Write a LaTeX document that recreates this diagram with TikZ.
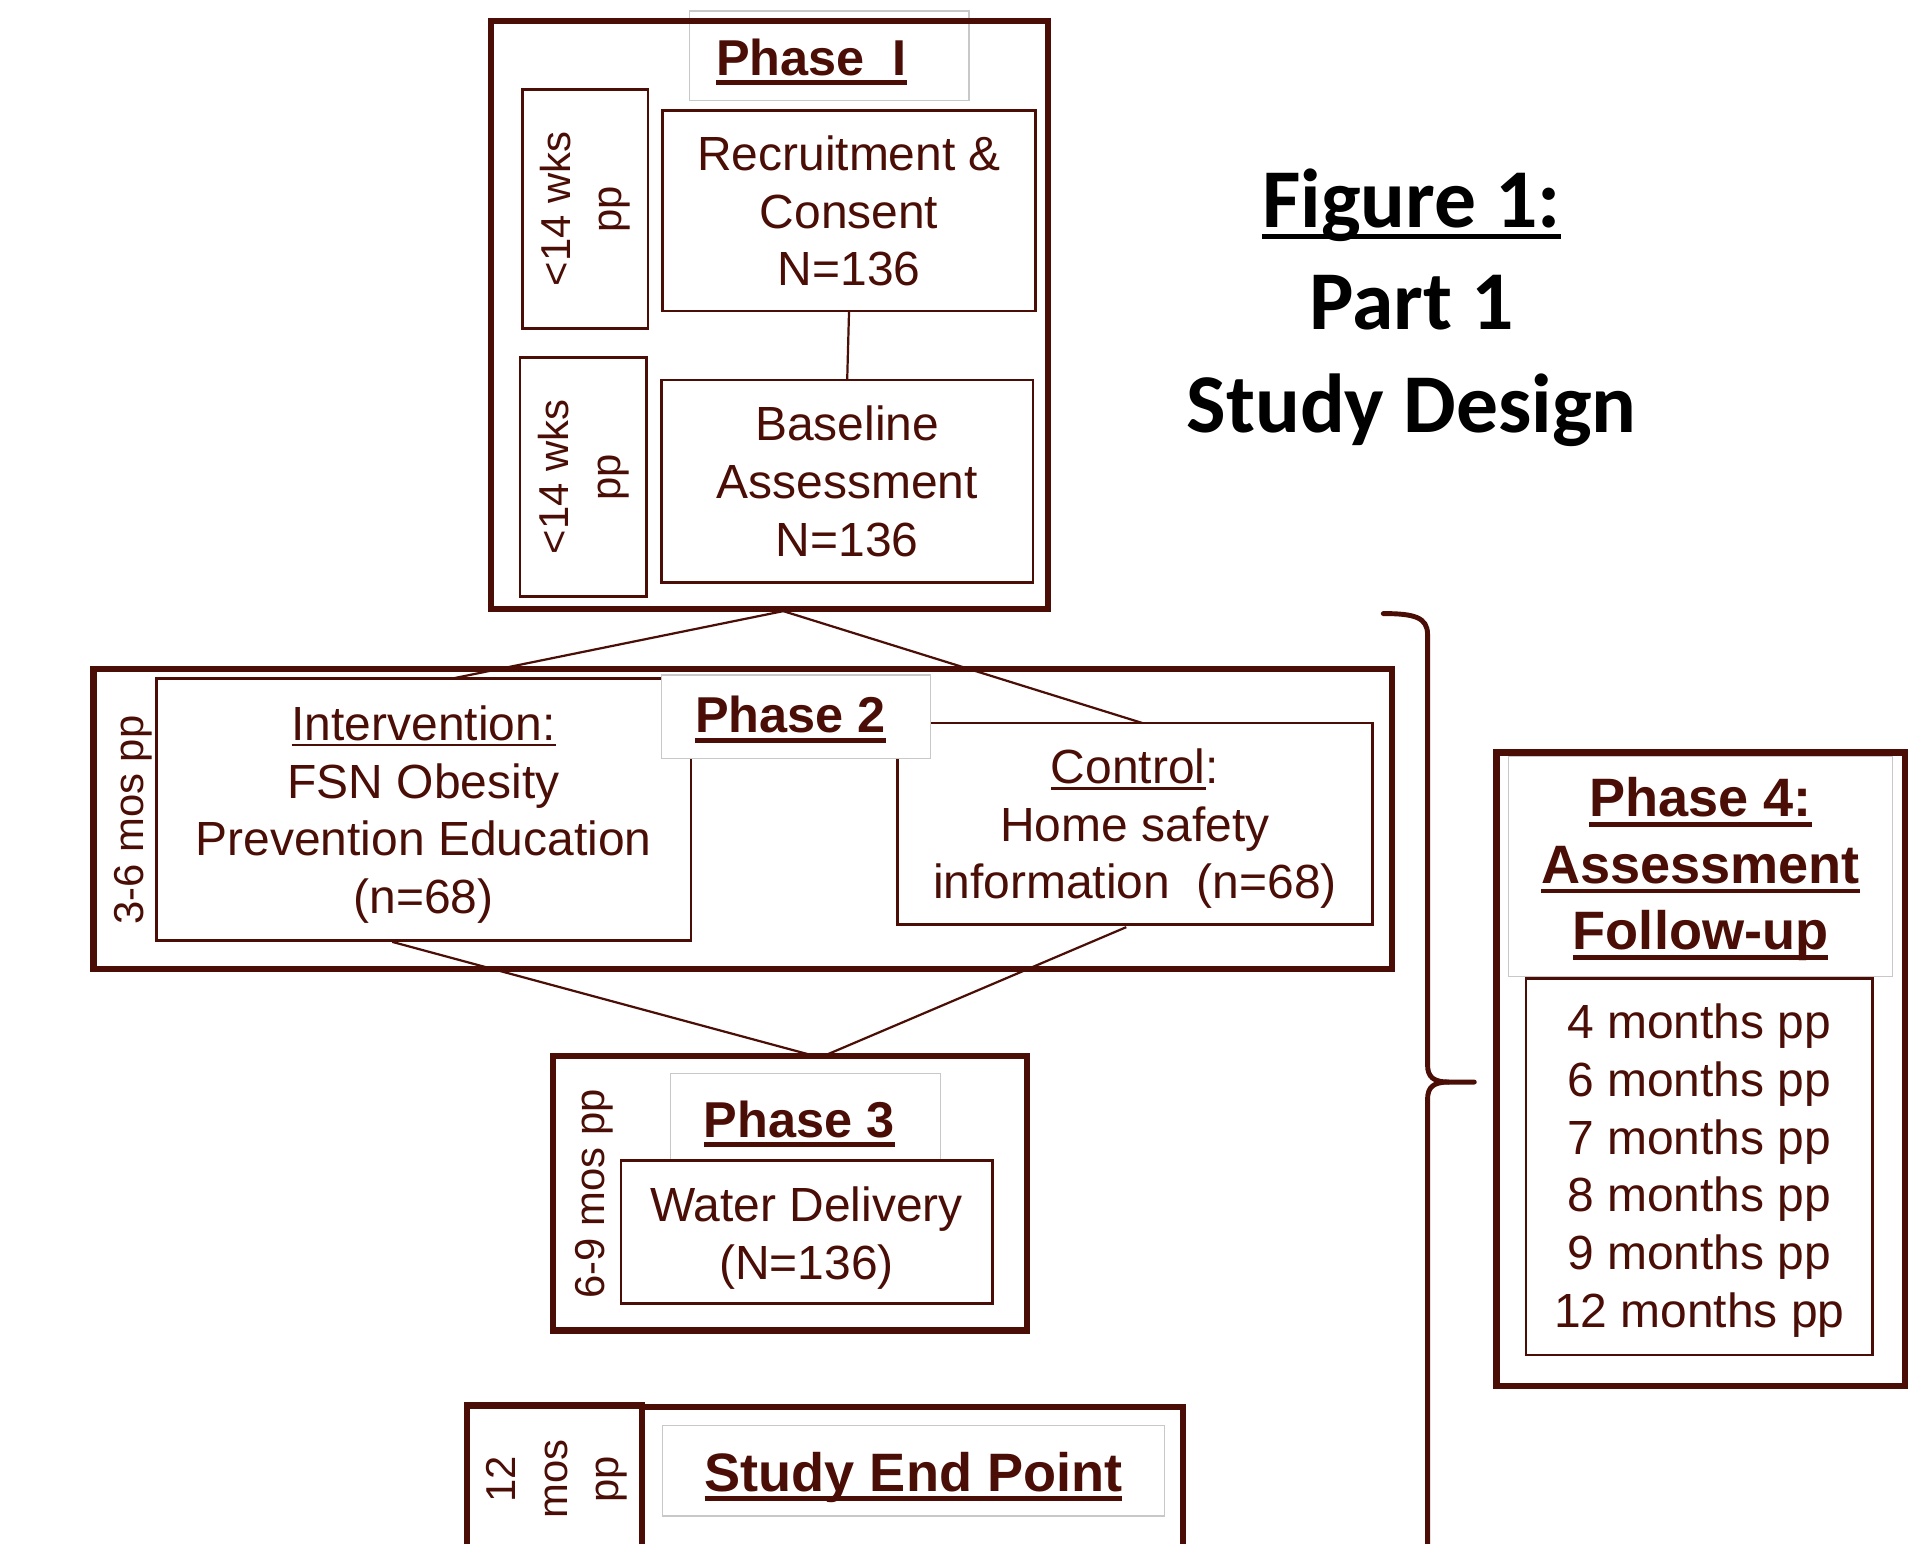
\documentclass[tikz,border=0pt]{standalone}
\usepackage{fontspec}
\setmainfont{Liberation Sans}
\newfontfamily\calib{Carlito}
\usetikzlibrary{fit}
\definecolor{brn}{RGB}{74,14,6}
\definecolor{gbox}{RGB}{200,200,200}
\newcommand\uln[3]{\leavevmode\setbox0\hbox{#3}\rlap{\rule[-#2]{\wd0}{#1}}\box0}
\begin{document}
\begin{tikzpicture}[x=1pt,y=-1pt,
  every node/.style={inner sep=0pt, outer sep=0pt, text=brn},
  outerbox/.style={draw=brn, line width=5pt},
  innerbox/.style={draw=brn, line width=2.2pt, fill=white},
  titlebox/.style={draw=gbox, line width=1pt, fill=white},
  conn/.style={draw=brn, line width=1.8pt},
  body/.style={font=\fontsize{39}{47}\selectfont, align=center},
  side/.style={font=\fontsize{34}{42}\selectfont, align=center, rotate=90},
  ptitle/.style={font=\fontsize{41}{49}\selectfont\bfseries},
  bigtitle/.style={font=\fontsize{44}{54}\selectfont\bfseries, align=center},
  brace/.style={draw=brn, line width=4pt, line cap=round, line join=round},
]
\useasboundingbox (0,0) rectangle (1568,1255);
\fill[white] (0,0) rectangle (1568,1255);
\clip (0,0) rectangle (1568,1255);

% ---------- Phase I ----------
\node[innerbox, fit={(425,73) (527,267)}] (wk1) {};
\node[side] (wk1t) at (wk1.center) {<14 wks\\pp};
\node[innerbox, fit={(539,90) (842,253)}] (recr) {};
\node[body] (recrt) at (recr.center) {Recruitment \&\\Consent\\N=136};
\node[innerbox, fit={(423,291) (526,485)}] (wk2) {};
\node[side] (wk2t) at (wk2.center) {<14 wks\\pp};
\node[innerbox, fit={(538,309) (840,474)}] (base) {};
\node[body] (baset) at (base.center) {Baseline\\Assessment\\N=136};
\draw[conn] (recr.south) -- (base.north);
\node[titlebox, fit={(561,9) (788,82)}] (t1box) {};
\node[ptitle, anchor=base] (t1) at (660,61) {\uln{4pt}{8pt}{Phase\ \ I}};
\node[outerbox, fit={(399,17) (852,495)}] (ph1) {};

% ---------- Phase 2 ----------
\node[innerbox, fit={(127,552) (562,765)}] (interv) {};
\node[body, yshift=-4pt] (intervt) at (interv.center) {\uln{2pt}{5pt}{Intervention:}\\FSN Obesity\\Prevention Education\\(n=68)};
\node[innerbox, fit={(730,588) (1116,752)}] (ctrl) {};
\node[body, yshift=-4pt] (ctrlt) at (ctrl.center) {\uln{2pt}{5pt}{Control}:\\Home safety\\information\ \ (n=68)};
\node[titlebox, fit={(538,549) (757,617)}] (t2box) {};
\node[ptitle, anchor=base] (t2) at (643,596) {\uln{4pt}{8pt}{Phase 2}};
\node[outerbox, fit={(76,544) (1132,788)}] (ph2) {};
\node[side] (ph2t) at (108,667) {3-6 mos pp};

\coordinate (apex1) at (637,497);
\coordinate (itop) at (367,552);
\coordinate (ctop) at (929,588);
\coordinate (ibot) at (319,766);
\coordinate (cbot) at (916,754);
\coordinate (apex3) at (667,860);
\draw[conn] (apex1) -- (itop);
\draw[conn] (apex1) -- (ctop);
\draw[conn] (ibot) -- (apex3);
\draw[conn] (cbot) -- (apex3);

% ---------- Phase 3 ----------
\node[titlebox, fit={(545,873) (765,943)}] (t3box) {};
\node[innerbox, fit={(505,944) (807,1060)}] (water) {};
\node[body, yshift=-5pt] (watert) at (water.center) {Water Delivery\\(N=136)};
\node[ptitle, anchor=base] (t3) at (650,925) {\uln{4pt}{8pt}{Phase 3}};
\node[outerbox, fit={(450,859) (835,1082)}] (ph3) {};
\node[side] (ph3t) at (483,971) {6-9 mos pp};

% ---------- Study End Point ----------
\node[titlebox, fit={(539,1159) (947,1233)}] (t5box) {};
\node[ptitle, font=\fontsize{44}{50}\selectfont\bfseries, anchor=base] (t5) at (743,1213) {\uln{4pt}{8pt}{Study End Point}};
\node[outerbox, fit={(522,1144) (962,1290)}] (endmain) {};
\node[outerbox, fit={(380,1143) (522,1290)}] (endcell) {};
\node[side] (endt) at (453,1203) {12\\mos\\pp};

% ---------- Phase 4 ----------
\node[innerbox, fit={(1241,796) (1523,1102)}] (fu) {};
\node[body, yshift=-3pt] (fut) at (fu.center) {4 months pp\\6 months pp\\7 months pp\\8 months pp\\9 months pp\\12 months pp};
\node[titlebox, fit={(1227,615) (1539,794)}] (t4box) {};
\node[bigtitle] (t4) at (1383,707) {\uln{3.5pt}{8pt}{Phase 4:}\\\uln{3.5pt}{8pt}{Assessment}\\\uln{3.5pt}{8pt}{Follow-up}};
\node[outerbox, fit={(1217,612) (1549,1127)}] (ph4) {};

% ---------- Brace ----------
\draw[brace] (1125,499) .. controls (1150,499) and (1161,502) .. (1161,516) -- (1161,866)
  .. controls (1161,876) and (1166,880) .. (1178,880) -- (1199,880);
\draw[brace] (1161,1290) -- (1161,894) .. controls (1161,884) and (1166,880) .. (1178,880);

% ---------- Figure title ----------
\node[font=\calib\fontsize{68}{83}\selectfont\bfseries, text=black, anchor=base] (ft1) at (1148,185) {\uln{4pt}{9pt}{Figure 1:}};
\node[font=\calib\fontsize{68}{83}\selectfont\bfseries, text=black, anchor=base] (ft2) at (1148,268) {Part 1};
\node[font=\calib\fontsize{68}{83}\selectfont\bfseries, text=black, anchor=base] (ft3) at (1148,352) {Study Design};
\end{tikzpicture}
\end{document}
